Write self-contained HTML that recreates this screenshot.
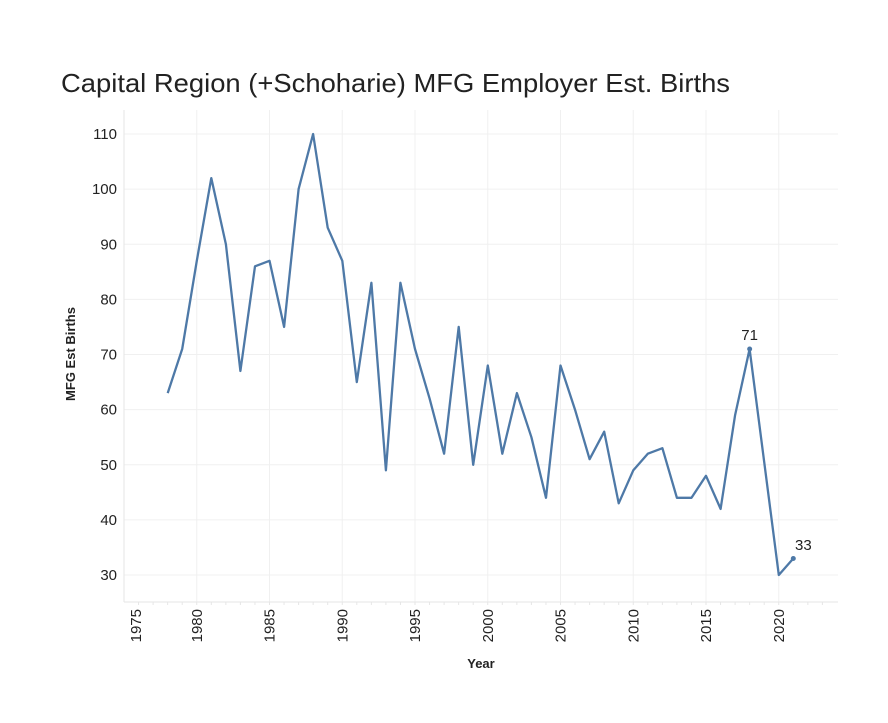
<!DOCTYPE html>
<html><head><meta charset="utf-8"><style>body{margin:0;background:#fff}svg{display:block;font-family:"Liberation Sans",sans-serif}</style></head>
<body>
<svg id="s" width="888" height="723" xmlns="http://www.w3.org/2000/svg">
<text x="61" y="92" font-size="26" fill="#222" textLength="669" lengthAdjust="spacingAndGlyphs">Capital Region (+Schoharie) MFG Employer Est. Births</text>
<g id="g"></g>
<text transform="translate(75,354) rotate(-90)" font-size="13" font-weight="bold" text-anchor="middle" fill="#222">MFG Est Births</text>
<text x="481" y="668" font-size="13" font-weight="bold" text-anchor="middle" fill="#222">Year</text>
</svg>
<script>
var g=document.getElementById('g'),h='';
function X(y){return 124+(y-1975)*14.55}
function Y(v){return 575-(v-30)*5.5125}
for(var v=30;v<=110;v+=10){h+='<line x1="124" x2="838" y1="'+Y(v)+'" y2="'+Y(v)+'" stroke="#f0f0f0"/>';h+='<text x="117" y="'+(Y(v)+5)+'" font-size="15" text-anchor="end" fill="#222">'+v+'</text>';}
for(var y=1980;y<=2020;y+=5){h+='<line x1="'+X(y)+'" x2="'+X(y)+'" y1="110" y2="602" stroke="#f0f0f0"/>';}
for(var y=1976;y<=2023;y++){h+='<line x1="'+X(y)+'" x2="'+X(y)+'" y1="602" y2="605" stroke="#e6e6e6"/>';}
h+='<line x1="124" x2="838" y1="602" y2="602" stroke="#e6e6e6"/><line x1="124" x2="124" y1="110" y2="602" stroke="#e6e6e6"/>';
for(var y=1975;y<=2020;y+=5){var x=y==1975?136:X(y);h+='<text transform="translate('+(x+5)+',609) rotate(-90)" font-size="15" text-anchor="end" fill="#222">'+y+'</text>';}
var d=[63,71,87,102,90,67,86,87,75,100,110,93,87,65,83,49,83,71,62,52,75,50,68,52,63,55,44,68,60,51,56,43,49,52,53,44,44,48,42,59,71,50.5,30,33];
var p=d.map(function(v,i){return X(1978+i).toFixed(1)+','+Y(v).toFixed(1)}).join(' ');
h+='<polyline points="'+p+'" fill="none" stroke="#4e79a7" stroke-width="2.3" stroke-linejoin="round"/>';
h+='<circle cx="'+X(2018)+'" cy="'+Y(71)+'" r="2.5" fill="#4e79a7"/><circle cx="'+X(2021)+'" cy="'+Y(33)+'" r="2.5" fill="#4e79a7"/>';
h+='<text x="'+X(2018)+'" y="340" font-size="15" text-anchor="middle" fill="#222">71</text><text x="795" y="550" font-size="15" fill="#222">33</text>';
g.innerHTML=h;
</script>
</body></html>
